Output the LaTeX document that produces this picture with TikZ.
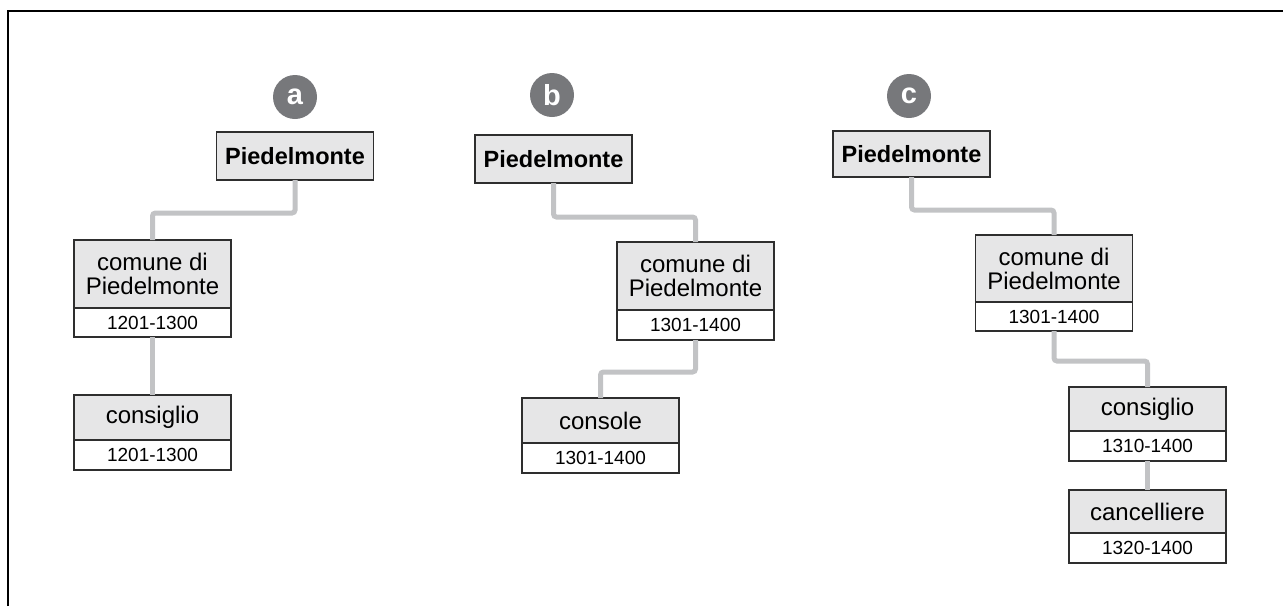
\documentclass[tikz,border=0pt]{standalone}
\usepackage{fontspec}
\setmainfont{Liberation Sans}
\definecolor{boxfill}{HTML}{E6E6E7}
\definecolor{boxline}{HTML}{2E2E2E}
\definecolor{connc}{HTML}{C2C3C5}
\definecolor{badgec}{HTML}{77787B}
\tikzset{
  gbox/.style={draw=boxline, fill=boxfill, line width=1.3pt, minimum width=157pt, inner sep=0pt, outer sep=0pt, anchor=north, align=center, font=\fontsize{24}{24}\selectfont},
  tbox/.style={gbox, minimum height=48pt, font=\bfseries\fontsize{23.5}{24}\selectfont},
  dbox/.style={draw=boxline, fill=white, line width=1.3pt, minimum width=157pt, minimum height=30pt, inner sep=0pt, outer sep=0pt, anchor=north, font=\fontsize{19}{20}\selectfont},
  conn/.style={draw=connc, line width=5pt, rounded corners=3pt},
  badge/.style={circle, fill=badgec, minimum size=44pt, inner sep=0pt, text=white, font=\bfseries\fontsize{29}{29}\selectfont},
}
\begin{document}
\begin{tikzpicture}[x=1pt,y=-1pt]
\useasboundingbox (0,0) rectangle (1283,606);
\draw[line width=2pt] (8,606) -- (8,11) -- (1283,11);

% ---------- a ----------
\node[badge] (ba) at (295,97) {a};
\node[tbox] (ta) at (295,132) {Piedelmonte};
\node[gbox, minimum height=68pt] (ca) at (152.5,240) {comune di\\Piedelmonte};
\node[dbox, minimum height=29pt] (cad) at (ca.south) {1201-1300};
\node[gbox, minimum height=45pt] (sa) at (152.5,395) {consiglio};
\node[dbox] (sad) at (sa.south) {1201-1300};

% ---------- b ----------
\node[badge] (bb) at (552,95) {b};
\node[tbox] (tb) at (553.5,135) {Piedelmonte};
\node[gbox, minimum height=68pt] (cb) at (695.5,242) {comune di\\Piedelmonte};
\node[dbox] (cbd) at (cb.south) {1301-1400};
\node[gbox, minimum height=45pt] (sb) at (600.5,398) {console};
\node[dbox] (sbd) at (sb.south) {1301-1400};

% ---------- c ----------
\node[badge] (bc) at (909,96) {c};
\node[tbox, minimum height=46pt] (tc) at (911.5,131) {Piedelmonte};
\node[gbox, minimum height=67pt] (cc) at (1054,235) {comune di\\Piedelmonte};
\node[dbox, minimum height=29pt] (ccd) at (cc.south) {1301-1400};
\node[gbox, minimum height=44pt] (sc) at (1147.5,387) {consiglio};
\node[dbox] (scd) at (sc.south) {1310-1400};
\node[gbox, minimum height=43pt] (kc) at (1147.5,490) {cancelliere};
\node[dbox] (kcd) at (kc.south) {1320-1400};

% ---------- connectors ----------
\draw[conn] (ta.south) -- ++(0,33) -| (ca.north);
\draw[conn] (cad.south) -- (sa.north);
\draw[conn] (tb.south) -- ++(0,34) -| (cb.north);
\draw[conn] (cbd.south) -- ++(0,32) -| (sb.north);
\draw[conn] (tc.south) -- ++(0,33) -| (cc.north);
\draw[conn] (ccd.south) -- ++(0,30) -| (sc.north);
\draw[conn] (scd.south) -- (kc.north);
\end{tikzpicture}
\end{document}
